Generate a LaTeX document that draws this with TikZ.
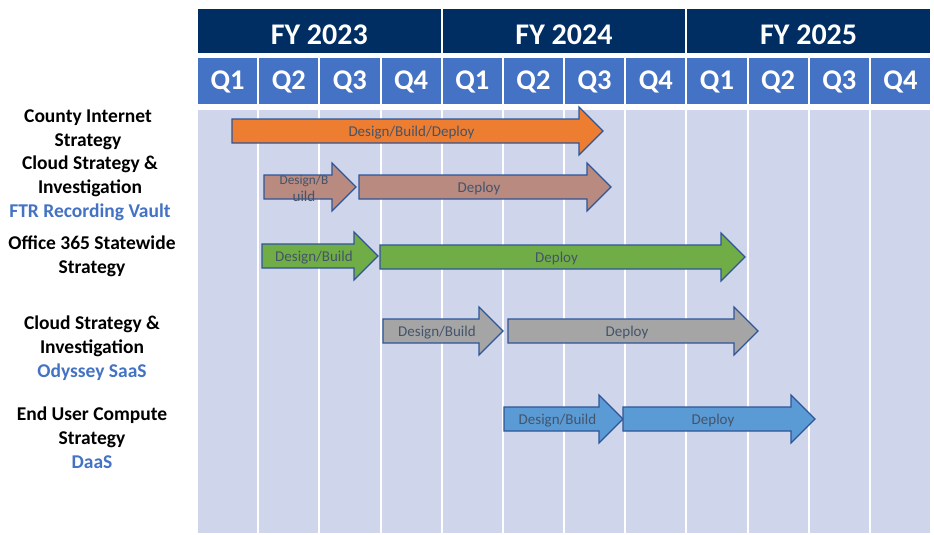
\documentclass[tikz,border=0pt]{standalone}
\usepackage{fontspec}
\setmainfont{Carlito}

\definecolor{fynavy}{HTML}{002D62}
\definecolor{qblue}{HTML}{4472C4}
\definecolor{bodylav}{HTML}{CFD5EA}
\definecolor{edgeblue}{HTML}{2F5597}
\definecolor{phasetext}{HTML}{44546A}
\definecolor{orangebar}{HTML}{ED7D31}
\definecolor{brownbar}{HTML}{B98A80}
\definecolor{greenbar}{HTML}{70AD47}
\definecolor{greybar}{HTML}{A5A5A5}
\definecolor{bluebar}{HTML}{5B9BD5}

\tikzset{
  headtext/.style={text=white, font=\fontsize{28.5}{30}\selectfont\bfseries, inner sep=0pt},
  rowlabel/.style={align=center, font=\fontsize{19.5}{24}\selectfont\bfseries, inner sep=0pt},
  phaselabel/.style={align=center, text=phasetext, font=\fontsize{15}{17}\selectfont, inner sep=0pt}
}

% name, start x, tip x, centre y, fill, text
\newcommand{\phasearrow}[6]{%
  \filldraw[fill=#5, draw=edgeblue, line width=1.2pt, line join=miter]
    (#2,#4-12) -- (#3-24,#4-12) -- (#3-24,#4-24) -- (#3,#4)
    -- (#3-24,#4+24) -- (#3-24,#4+12) -- (#2,#4+12) -- cycle;
  \node[phaselabel] (#1) at ({(#2+#3-12)/2},#4+1.5) {#6};
}

\begin{document}
\begin{tikzpicture}[x=1pt,y=-1pt]
    \useasboundingbox (0,0) rectangle (934,535);
    \fill[white] (0,0) rectangle (934,535);

    % Fiscal years
    \foreach \j/\yr in {0/2023,1/2024,2/2025} {
        \fill[fynavy] (198+\j*244.67,9) rectangle (198+\j*244.67+242.7,53);
        \node[headtext, font=\fontsize{30}{32}\selectfont\bfseries] (fy\yr) at (198+\j*244.67+121.3,35) {FY \yr};
    }

    % Quarters and column background
    \foreach \i in {0,...,11} {
        \pgfmathtruncatemacro{\q}{mod(\i,4)+1}
        \fill[qblue] (198+\i*61.17,58) rectangle (198+\i*61.17+59.2,104);
        \fill[bodylav] (198+\i*61.17,110) rectangle (198+\i*61.17+59.2,533);
        \node[headtext] (q\i) at (198+\i*61.17+29.6,82) {Q\q};
    }

    % Row labels
    \node[rowlabel] (internet) at (88,130) {County Internet\\Strategy};
    \node[rowlabel] (ftrvault) at (90,188) {Cloud Strategy \&\\Investigation\\{\color{qblue}FTR Recording Vault}};
    \node[rowlabel] (office365) at (92,256) {Office 365 Statewide\\Strategy};
    \node[rowlabel] (odyssey) at (92,348) {Cloud Strategy \&\\Investigation\\{\color{qblue}Odyssey SaaS}};
    \node[rowlabel] (daas) at (92,437.5) {End User Compute\\Strategy\\{\color{qblue}DaaS}};

    % Phase arrows
    \phasearrow{internetall}{232}{603}{131}{orangebar}{Design/Build/Deploy}
    \phasearrow{ftrbuild}{264}{356}{187}{brownbar}{\fontsize{13.3}{16}\selectfont Design/B\\uild}
    \phasearrow{ftrdeploy}{359}{611}{187}{brownbar}{Deploy}
    \phasearrow{officebuild}{262}{378}{256}{greenbar}{Design/Build}
    \phasearrow{officedeploy}{380}{745}{257}{greenbar}{Deploy}
    \phasearrow{odysseybuild}{383}{503}{331}{greybar}{Design/Build}
    \phasearrow{odysseydeploy}{508}{758}{331}{greybar}{Deploy}
    \phasearrow{daasbuild}{504}{623}{419}{bluebar}{Design/Build}
    \phasearrow{daasdeploy}{623}{815}{419}{bluebar}{Deploy}
\end{tikzpicture}
\end{document}
